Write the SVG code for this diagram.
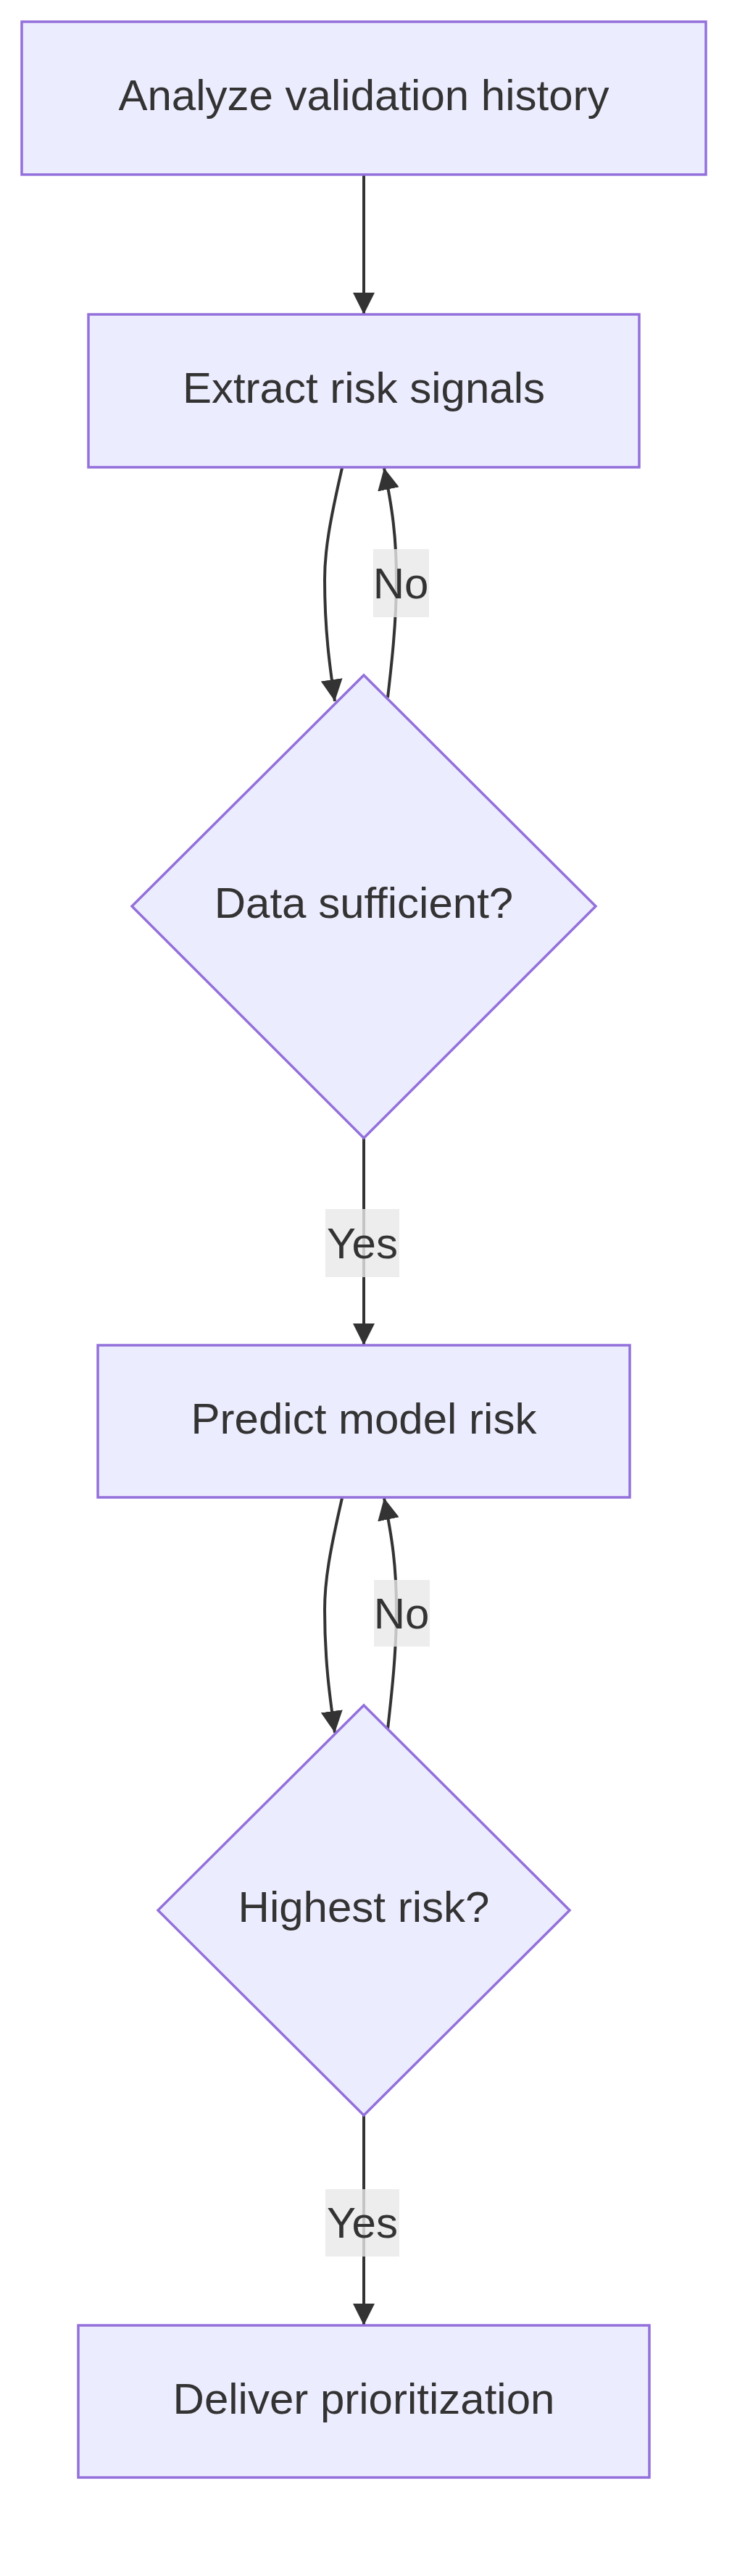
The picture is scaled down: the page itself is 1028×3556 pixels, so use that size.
<svg xmlns="http://www.w3.org/2000/svg" width="1028" height="3556" viewBox="0 0 1028 3556">
<style>
.node{fill:#ECECFF;stroke:#9370DB;stroke-width:3.5}
.lbl{font-family:"Liberation Sans",Arial,sans-serif;font-size:60px;fill:#333333;text-anchor:middle;dominant-baseline:central}
.edge{fill:none;stroke:#333333;stroke-width:4}
.ebg{fill:#e8e8e8;opacity:0.8}
</style>
<defs>
<marker id="arr" viewBox="0 0 10 10" refX="10" refY="5" markerWidth="30" markerHeight="30" markerUnits="userSpaceOnUse" orient="auto"><path d="M0,0L10,5L0,10z" fill="#333333"/></marker>
</defs>
<rect width="1028" height="3556" fill="#ffffff"/>
<g id="connectors">
<path class="edge" d="M502,242 L502,434" marker-end="url(#arr)"/>
<path class="edge" d="M472,646 C455,720 448,760 448,800 C448,870 455,920 462,968" marker-end="url(#arr)"/>
<path class="edge" d="M535,963 C540,920 547,860 547,800 C547,740 541,700 530,646" marker-end="url(#arr)"/>
<path class="edge" d="M502,1571 L502,1857" marker-end="url(#arr)"/>
<path class="edge" d="M472,2068 C455,2142 448,2182 448,2222 C448,2292 455,2342 462,2392" marker-end="url(#arr)"/>
<path class="edge" d="M535,2387 C540,2342 547,2282 547,2222 C547,2162 541,2122 530,2068" marker-end="url(#arr)"/>
<path class="edge" d="M502,2920 L502,3210" marker-end="url(#arr)"/>
<rect class="ebg" x="515" y="758" width="77" height="94"/>
<text class="lbl" x="553" y="805">No</text>
<rect class="ebg" x="449" y="1669" width="102" height="94"/>
<text class="lbl" x="500" y="1716">Yes</text>
<rect class="ebg" x="516" y="2181" width="77" height="92"/>
<text class="lbl" x="554" y="2227">No</text>
<rect class="ebg" x="449" y="3022" width="102" height="93"/>
<text class="lbl" x="500" y="3068">Yes</text>
</g>
<g id="n1"><rect class="node" x="30" y="30" width="944" height="211"/><text class="lbl" x="502" y="131">Analyze validation history</text></g>
<g id="n2"><rect class="node" x="122" y="434" width="760" height="211"/><text class="lbl" x="502" y="535">Extract risk signals</text></g>
<g id="n3"><polygon class="node" points="502,932 822,1251 502,1571 182,1251"/><text class="lbl" x="502" y="1246">Data sufficient?</text></g>
<g id="n4"><rect class="node" x="135" y="1857" width="734" height="210"/><text class="lbl" x="502" y="1958">Predict model risk</text></g>
<g id="n5"><polygon class="node" points="502,2354 786,2637 502,2920 218,2637"/><text class="lbl" x="502" y="2632">Highest risk?</text></g>
<g id="n6"><rect class="node" x="108" y="3210" width="788" height="210"/><text class="lbl" x="502" y="3311">Deliver prioritization</text></g>
</svg>
